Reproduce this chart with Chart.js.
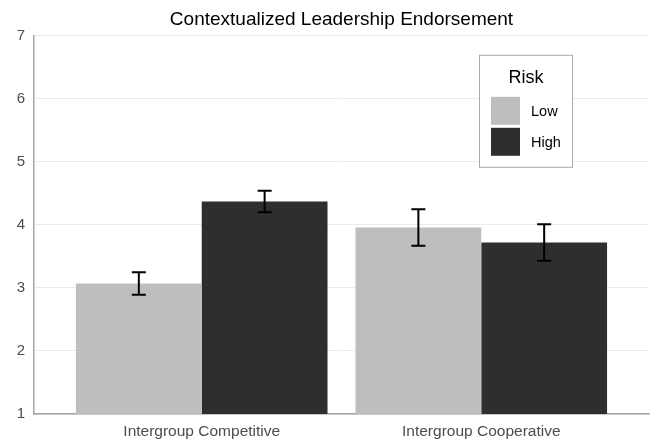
<!DOCTYPE html>
<html>
<head>
<meta charset="utf-8">
<script src="https://cdn.jsdelivr.net/npm/chart.js@4"></script>
<style>
html, body { margin: 0; padding: 0; background: #fff; }
</style>
</head>
<body>
<canvas id="chart" width="668" height="440"></canvas>
<script>
// Valores
const categories = ['Intergroup Competitive', 'Intergroup Cooperative'];
const riskLevels = ['Low', 'High'];
const lowMeans = [3.07, 3.96];
const highMeans = [4.37, 3.72];
const lowErrors = [0.18, 0.29];
const highErrors = [0.17, 0.29];
const yTicks = [1, 2, 3, 4, 5, 6, 7];

const colores = ['#bebebe', '#2e2e2e'];
const fuente = "'Liberation Sans', Arial, sans-serif";

const errores = [lowErrors, highErrors];

// barras de error
const errorBars = {
    id: 'errorBars',
    afterDatasetsDraw(chart) {
        const ctx = chart.ctx;
        const y = chart.scales.y;
        ctx.save();
        ctx.strokeStyle = '#000';
        ctx.lineWidth = 2;
        chart.data.datasets.forEach((ds, d) => {
            const meta = chart.getDatasetMeta(d);
            meta.data.forEach((bar, i) => {
                const v = ds.data[i].y;
                const e = errores[d][i];
                const top = y.getPixelForValue(v + e);
                const bot = y.getPixelForValue(v - e);
                const x = bar.x;
                ctx.beginPath();
                ctx.moveTo(x, top); ctx.lineTo(x, bot);
                ctx.moveTo(x - 7, top); ctx.lineTo(x + 7, top);
                ctx.moveTo(x - 7, bot); ctx.lineTo(x + 7, bot);
                ctx.stroke();
            });
        });
        ctx.restore();
    }
};

// leyenda dentro del area
const leyenda = {
    id: 'leyenda',
    afterDraw(chart) {
        const ctx = chart.ctx;
        const area = chart.chartArea;
        const left = area.right - 170;
        const top = area.top + 19;
        ctx.save();
        ctx.fillStyle = '#fff';
        ctx.fillRect(left, top, 93, 112);
        ctx.strokeStyle = '#aaaaaa';
        ctx.lineWidth = 1;
        ctx.strokeRect(left + 0.5, top + 0.5, 93, 112);
        ctx.fillStyle = '#000';
        ctx.font = '18px ' + fuente;
        ctx.textAlign = 'center';
        ctx.textBaseline = 'alphabetic';
        ctx.fillText('Risk', left + 47, top + 28);
        ctx.font = '14.5px ' + fuente;
        ctx.textAlign = 'left';
        ctx.textBaseline = 'middle';
        riskLevels.forEach((nombre, i) => {
            const sy = top + 42 + i * 31;
            ctx.fillStyle = colores[i];
            ctx.fillRect(left + 12, sy, 29, 28);
            ctx.fillStyle = '#000';
            ctx.fillText(nombre, left + 52, sy + 15);
        });
        ctx.restore();
    }
};

new Chart(document.getElementById('chart'), {
    type: 'bar',
    data: {
        datasets: riskLevels.map((nombre, d) => ({
            label: nombre,
            data: (d === 0 ? lowMeans : highMeans).map((v, i) => ({ x: i, y: v })),
            backgroundColor: colores[d],
            borderWidth: 0,
            categoryPercentage: 0.9,
            barPercentage: 1.0
        }))
    },
    options: {
        responsive: false,
        animation: false,
        layout: { padding: { right: 19, left: 0, bottom: 0, top: 0 } },
        scales: {
            x: {
                type: 'linear',
                offset: false,
                min: -0.6,
                max: 1.6,
                afterBuildTicks: (scale) => {
                    scale.ticks = categories.map((c, i) => ({ value: i }));
                },
                afterFit: (scale) => { scale.height = 26; },
                ticks: {
                    callback: (v) => categories[v],
                    font: { family: fuente, size: 15.5 },
                    color: '#4d4d4d',
                    padding: 8,
                    maxRotation: 0,
                    autoSkip: false
                },
                grid: { display: false, drawTicks: false },
                border: { color: '#a6a6a6', width: 1.5 }
            },
            y: {
                min: 1,
                max: 7,
                beginAtZero: false,
                afterBuildTicks: (scale) => {
                    scale.ticks = yTicks.map(v => ({ value: v }));
                },
                afterFit: (scale) => { scale.width = 34; },
                ticks: {
                    font: { family: fuente, size: 15 },
                    color: '#4d4d4d',
                    padding: 9
                },
                grid: { color: '#ebebeb', lineWidth: 1, drawTicks: false },
                border: { color: '#a6a6a6', width: 1.5 }
            }
        },
        plugins: {
            legend: { display: false },
            tooltip: { enabled: false },
            title: {
                display: true,
                fullSize: false,
                text: 'Contextualized Leadership Endorsement',
                color: '#000',
                font: { family: fuente, size: 19, weight: 'normal', lineHeight: 1.2 },
                padding: { top: 8, bottom: 5 }
            }
        }
    },
    plugins: [errorBars, leyenda]
});
</script>
</body>
</html>
